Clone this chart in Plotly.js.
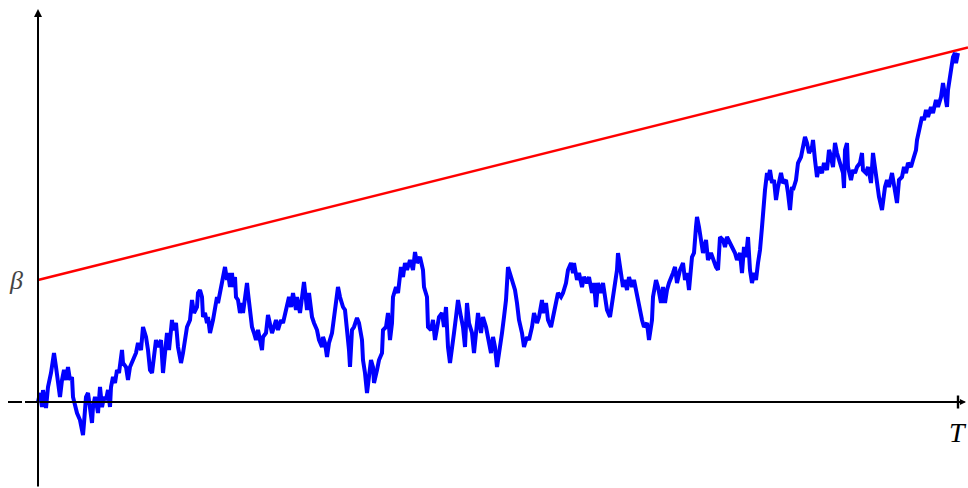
<!DOCTYPE html>
<html>
<head>
<meta charset="utf-8">
<script src="https://cdn.plot.ly/plotly-3.0.1.min.js"></script>
<style>html,body{margin:0;padding:0;background:#fff;}#chart{width:968px;height:488px;}</style>
</head>
<body>
<div id="chart"></div>
<script>
// Time steps (T = 920 steps) and Brownian path values (units where beta = 12.2)
const T = 920;
const beta = 12.2;
const pathT = [0,2,4,5,8,9,10,13,15,16,18,20,22,24,26,28,30,32,34,35,37,39,42,45,46,48,50,52,54,55,57,59,60,62,64,66,68,70,72,73,75,77,79,81,84,85,88,90,92,95,98,100,103,105,108,110,112,114,116,118,120,123,125,127,129,131,134,135,138,140,143,145,147,149,152,
154,156,159,160,162,164,165,167,169,170,172,175,177,179,180,183,185,187,189,190,192,194,195,197,198,200,202,204,205,207,209,210,212,214,216,218,220,222,224,225,228,230,232,234,236,238,240,243,245,247,249,251,253,255,258,259,262,264,266,268,269,271,274,276,279,281,284,285,287,289,291,294,296,298,300,302,305,307,309,311,
312,314,316,319,321,324,325,327,329,331,333,335,336,339,341,344,345,348,350,352,354,355,358,360,363,365,367,369,372,375,377,379,382,385,386,389,390,393,395,397,399,401,404,406,408,410,412,414,416,418,420,423,425,427,429,431,434,436,438,440,443,445,448,450,453,455,457,459,461,464,466,468,470,
475,477,479,481,484,486,489,491,494,496,499,501,504,505,508,510,513,515,518,520,523,525,528,530,533,535,536,539,541,544,546,549,551,554,556,558,560,563,565,567,569,572,575,577,579,580,583,585,587,589,591,594,596,599,601,604,606,609,611,614,615,618,620,623,625,627,629,631,
635,637,639,642,645,647,649,651,654,656,658,659,661,664,665,668,670,673,675,678,680,682,685,687,689,692,695,697,699,702,704,706,708,710,712,714,716,718,720,722,724,725,727,729,730,732,734,736,738,740,743,745,748,750,752,754,755,758,760,763,765,767,769,771,774,775,777,779,781,784,786,789,791,
792,795,797,799,802,805,806,807,809,810,813,815,817,819,822,824,825,828,830,833,835,837,839,841,844,845,847,849,851,854,856,858,859,861,864,866,868,870,873,875,878,879,881,884,886,888,890,893,895,898,900,903,905,907,909,910,912,914,915,917,918,920];
const pathW = [0,0.9,-0.5,1.2,-0.6,0.7,1.5,2.9,4.2,4.9,3.5,1.5,0.5,2.2,3.2,2.2,3.5,2.2,2.5,0.5,-0.5,-1.1,-1.8,-3.3,-2.1,0.5,0.9,-0.5,-2.1,-0.5,0.5,-0.5,-1.1,1.5,-0.5,0.5,0.2,1.2,-0.5,1.5,2.5,1.9,3.2,2.9,5.2,3.9,3.5,2.2,3.5,4.2,4.9,5.9,5.2,7.5,6.5,5.2,3.2,2.9,4.9,6.2,5.5,6.2,2.9,4.5,6.9,5.2,8.2,7.2,7.9,5.5,3.9,4.9,6.5,7.5,8.2,
10.2,8.9,9.5,10.9,11.2,10.5,8.5,8.9,7.9,8.5,6.9,8.2,9.2,10.5,9.9,11.5,12.2,13.5,12.2,12.9,11.5,12.9,11.5,12.5,10.5,10.2,8.9,9.9,8.9,10.2,11.9,10.9,9.2,7.5,6.9,6.2,7.2,6.2,5.2,6.5,6.9,8.7,7.9,6.9,7.5,8.2,7.2,8.2,7.9,8.7,9.9,10.5,9.5,10.9,9.2,10.5,8.9,10.5,12.0,10.2,9.2,10.9,8.5,7.9,7.2,6.2,5.5,6.5,5.9,4.5,5.9,6.9,8.5,9.9,11.5,10.5,9.5,9.2,7.5,5.2,
3.5,7.2,7.5,8.4,7.9,6.2,4.2,2.9,0.9,2.5,4.2,3.5,1.9,3.2,4.2,4.9,7.2,7.5,8.9,6.2,7.9,10.5,11.5,10.9,13.5,12.5,13.9,13.2,14.2,13.2,15.0,13.9,14.5,13.2,11.5,10.5,7.5,7.2,8.2,6.2,7.5,8.5,8.9,7.5,9.5,5.5,3.9,5.9,6.9,8.5,10.2,8.5,7.5,5.5,9.9,7.9,6.9,4.9,6.5,8.9,6.9,8.5,7.5,6.2,4.9,6.5,5.5,3.5,5.2,6.9,8.5,10.2,13.5,
11.9,11.2,9.9,8.2,6.9,5.5,6.5,6.2,7.5,8.9,7.9,8.5,10.2,8.9,9.9,8.2,7.5,8.5,9.9,10.9,10.5,10.9,11.9,13.2,13.9,12.9,13.9,12.2,12.9,11.5,12.5,11.9,12.5,10.9,11.9,9.5,11.9,10.9,11.9,10.2,9.2,8.5,10.5,11.9,13.2,14.9,13.2,11.5,12.2,11.2,12.5,11.5,12.2,10.5,9.5,8.2,7.5,7.9,6.2,8.2,10.5,12.2,11.5,9.9,11.5,9.9,11.2,11.9,
12.9,13.5,11.9,13.2,13.9,12.2,12.9,11.2,14.5,14.9,17.5,18.5,17.5,15.9,14.9,16.2,14.2,14.9,14.2,13.5,13.2,16.5,16.2,15.5,16.5,15.9,15.2,14.9,14.2,14.9,12.9,15.5,14.5,16.5,13.2,11.9,12.9,12.2,13.9,15.2,17.5,18.9,21.2,22.9,22.2,23.2,21.9,22.2,20.2,21.5,22.9,21.9,22.2,20.9,19.2,21.5,21.2,22.2,23.9,24.5,25.5,26.5,25.9,24.9,25.5,26.2,24.2,22.5,23.5,22.9,23.9,23.2,25.2,
24.9,23.5,25.9,24.9,23.9,22.9,21.4,25.2,25.9,23.5,22.2,23.2,22.9,23.5,23.9,24.9,23.2,22.9,23.5,21.9,24.9,23.5,22.2,20.5,19.2,20.2,21.5,22.2,21.5,22.9,21.9,20.9,19.9,22.2,22.5,23.5,22.9,23.9,23.5,24.2,25.2,26.2,27.2,28.5,28.2,29.2,28.5,29.5,28.9,30.2,29.5,30.5,31.9,30.9,29.5,31.2,32.5,33.5,34.5,34.9,33.9,34.9];
// Linear boundary beta + slope * t, drawn to the right edge
const boundaryT = [0, 930];
const boundaryW = [12.2, 35.45];
const tickLabels = ['T', '\u03b2'];

const traces = [
  {x: boundaryT, y: boundaryW, mode: 'lines', line: {color: '#ff0000', width: 2.5}, hoverinfo: 'skip'},
  {x: pathT, y: pathW, mode: 'lines', line: {color: '#0000ff', width: 4}, hoverinfo: 'skip'}
];

const xr = [-38, 930];
const yr = [-8.6, 40.2];

const layout = {
  width: 968, height: 488,
  margin: {l: 0, r: 0, t: 0, b: 0},
  paper_bgcolor: '#ffffff', plot_bgcolor: '#ffffff',
  showlegend: false,
  xaxis: {range: xr, visible: false, fixedrange: true},
  yaxis: {range: yr, visible: false, fixedrange: true},
  shapes: [
    {type: 'line', xref: 'x', yref: 'y', x0: -30, x1: 0, y0: 0, y1: 0, line: {color: '#000', width: 2.2, dash: '14px,3px'}},
    {type: 'line', xref: 'x', yref: 'y', x0: T, x1: T, y0: 0.65, y1: -0.65, line: {color: '#000', width: 2.4}, layer: 'above'}
  ],
  annotations: [
    {x: 928, y: 0, ax: 0, ay: 0, axref: 'x', ayref: 'y', xref: 'x', yref: 'y', text: '', showarrow: true, arrowhead: 2, arrowsize: 0.55, arrowwidth: 2.2, arrowcolor: '#000'},
    {x: 0, y: 39.3, ax: 0, ay: -8.6, axref: 'x', ayref: 'y', xref: 'x', yref: 'y', text: '', showarrow: true, arrowhead: 2, arrowsize: 0.8, arrowwidth: 2, arrowcolor: '#000'},
    {x: T, y: -3.0, xref: 'x', yref: 'y', text: '<i>' + tickLabels[0] + '</i>', showarrow: false, font: {family: 'Liberation Serif, DejaVu Serif, serif', size: 28, color: '#000'}, xanchor: 'center', yanchor: 'middle'},
    {x: -22, y: beta, xref: 'x', yref: 'y', text: '<i>' + tickLabels[1] + '</i>', showarrow: false, font: {family: 'Liberation Serif, DejaVu Serif, serif', size: 26, color: '#444'}, xanchor: 'center', yanchor: 'middle'}
  ]
};

Plotly.newPlot('chart', traces, layout, {displayModeBar: false, staticPlot: true});
</script>
</body>
</html>
